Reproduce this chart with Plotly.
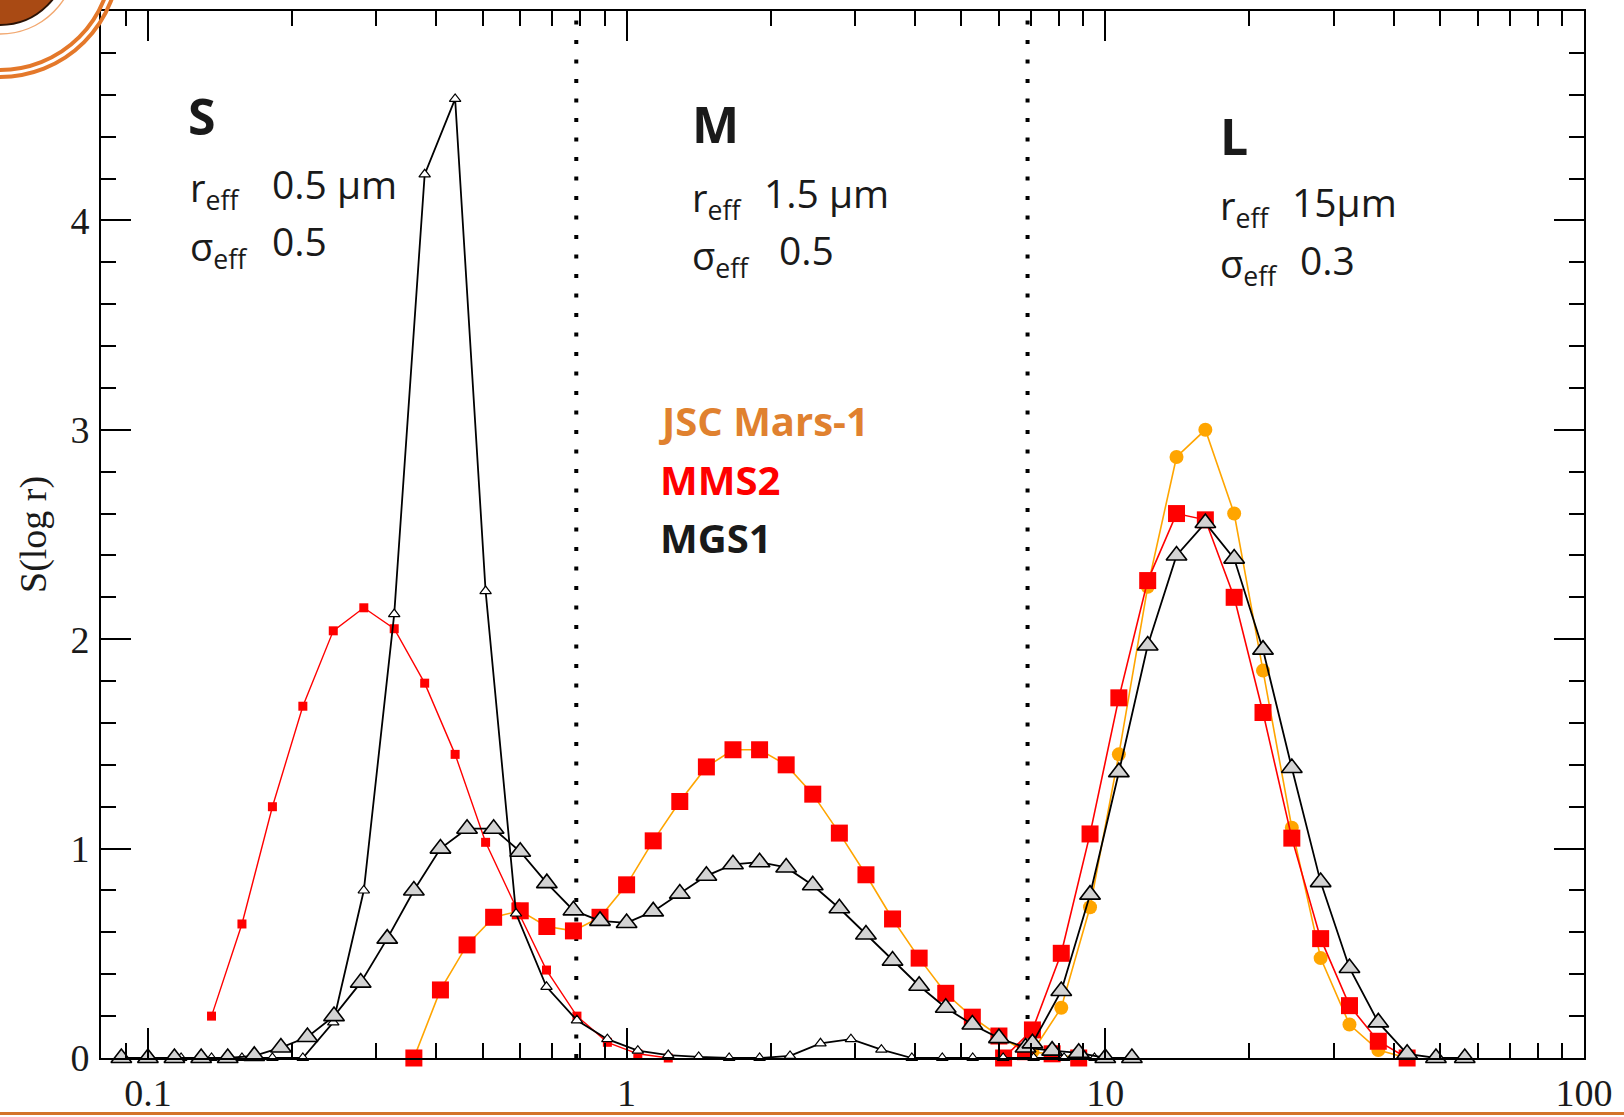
import plotly.graph_objects as go

# ---- particle radius grids (µm) ----
r_fine = [0.1014, 0.1173, 0.1358, 0.1572, 0.1820, 0.2107, 0.2439, 0.2825, 0.3270, 0.3786,
          0.4383, 0.5075, 0.5875, 0.6802, 0.7875, 0.9116, 1.0554, 1.2218, 1.4145, 1.6376,
          1.8959, 2.1948, 2.5410, 2.9418, 3.4058, 3.9430, 4.5647, 5.2845, 6.1180, 7.0829,
          8.2000, 9.4931]
r_mid = [0.0880, 0.1000, 0.1136, 0.1292, 0.1468, 0.1668, 0.1896, 0.2154, 0.2448, 0.2783,
         0.3162, 0.3594, 0.4084, 0.4642, 0.5275, 0.5995, 0.6813, 0.7743, 0.8799, 1.0000,
         1.1365, 1.2915, 1.4678, 1.6681, 1.8957, 2.1544, 2.4484, 2.7826, 3.1623, 3.5938,
         4.0842, 4.6416, 5.2750, 5.9948, 6.8129, 7.7426, 8.7992, 10.000, 11.365]
r_coarse = [6.131, 7.043, 8.091, 9.292, 10.674, 12.262, 14.086, 16.181, 18.587, 21.351,
            24.527, 28.175, 32.365, 37.178, 42.708, 49.06, 56.35]

# ---- S(log r) values ----
# MGS1, narrow S mode (on r_fine)
mgs1_s_narrow = [0, 0, 0, 0, 0, 0, 0.17, 0.80, 2.12, 4.22, 4.58, 2.23, 0.69, 0.34, 0.18,
                 0.09, 0.035, 0.014, 0.005, 0, 0, 0.01, 0.07, 0.09, 0.04, 0, 0, 0, 0, 0, 0, 0]
# MMS2, S mode (on r_fine, from 0.1358 µm)
mms2_s = [0.20, 0.64, 1.20, 1.68, 2.04, 2.15, 2.05, 1.79, 1.45, 1.03, 0.72, 0.42, 0.20,
          0.075, 0.02, 0.0]
# MGS1, S + M modes (on r_mid)
mgs1_sm = [0, 0, 0, 0, 0, 0.01, 0.05, 0.10, 0.20, 0.36, 0.57, 0.80, 1.00, 1.095, 1.095,
           0.985, 0.835, 0.705, 0.655, 0.645, 0.70, 0.785, 0.87, 0.925, 0.935, 0.91, 0.825,
           0.715, 0.59, 0.465, 0.345, 0.24, 0.16, 0.095, 0.05, 0.035, 0.025, 0.0, 0.0]
# MMS2 / JSC Mars-1, M mode (on r_mid, from 0.3594 µm)
mms2_m = [0.0, 0.325, 0.54, 0.672, 0.703, 0.628, 0.607, 0.672, 0.827, 1.037, 1.225, 1.39,
          1.472, 1.472, 1.40, 1.26, 1.074, 0.875, 0.664, 0.477, 0.309, 0.195, 0.105, 0.03,
          0.02, 0.0]
# L mode (on r_coarse)
jsc_l = [0.03, 0.24, 0.72, 1.45, 2.25, 2.87, 3.0, 2.60, 1.85, 1.10, 0.477, 0.16, 0.038, 0.0]
mms2_l = [0.0, 0.134, 0.50, 1.07, 1.72, 2.28, 2.60, 2.57, 2.20, 1.65, 1.05, 0.57, 0.25, 0.08, 0.0]
mgs1_l = [0.07, 0.32, 0.78, 1.365, 1.97, 2.40, 2.555, 2.385, 1.95, 1.385, 0.84, 0.43, 0.17,
          0.02, 0.0, 0.0]

# mode boundaries (µm)
mode_bounds = [0.785, 6.88]

x_ticks = [0.1, 1, 10, 100]
x_tick_text = ["0.1", "1", "10", "100"]
y_ticks = [0, 1, 2, 3, 4]

# ---- page geometry (px) ----
W, H = 1624, 1117
L_M, R_M, T_M, B_M = 101, 40, 11, 59
PW, PH = W - L_M - R_M, H - T_M - B_M


def px(xp):
    return (xp - L_M) / PW


def py(yp):
    return (H - B_M - yp) / PH


RED = "#FF0000"
ORANGE = "#FFA500"
GRAY = "#D3D3D3"
INK = "#1A1A1A"
SANS = "'Open Sans', Lato, sans-serif"
SERIF = "'Liberation Serif', 'Times New Roman', serif"

fig = go.Figure()

for b in mode_bounds:
    fig.add_trace(go.Scatter(x=[b, b], y=[0, 5], mode="lines",
                             line=dict(color="black", width=4, dash="4px,15.5px"),
                             hoverinfo="skip"))

fig.add_trace(go.Scatter(  # JSC Mars-1, L mode
    x=r_coarse[1:1 + len(jsc_l)], y=jsc_l, mode="lines+markers",
    line=dict(color=ORANGE, width=1.6),
    marker=dict(symbol="circle", size=14, color=ORANGE), cliponaxis=False))

fig.add_trace(go.Scatter(  # M mode
    x=r_mid[11:11 + len(mms2_m)], y=mms2_m, mode="lines+markers",
    line=dict(color=ORANGE, width=1.6),
    marker=dict(symbol="square", size=17, color=RED), cliponaxis=False))

fig.add_trace(go.Scatter(  # MMS2, L mode
    x=r_coarse[:len(mms2_l)], y=mms2_l, mode="lines+markers",
    line=dict(color=RED, width=1.6),
    marker=dict(symbol="square", size=17, color=RED), cliponaxis=False))

fig.add_trace(go.Scatter(  # MMS2, S mode
    x=r_fine[2:2 + len(mms2_s)], y=mms2_s, mode="lines+markers",
    line=dict(color=RED, width=1.4),
    marker=dict(symbol="square", size=9, color=RED), cliponaxis=False))

fig.add_trace(go.Scatter(  # MGS1, narrow S mode
    x=r_fine, y=mgs1_s_narrow, mode="lines+markers",
    line=dict(color="black", width=1.8),
    marker=dict(symbol="triangle-up", size=10, color="white",
                line=dict(color="black", width=1.2)), cliponaxis=False))

fig.add_trace(go.Scatter(  # MGS1, S + M modes
    x=r_mid, y=mgs1_sm, mode="lines+markers",
    line=dict(color="black", width=1.8),
    marker=dict(symbol="triangle-up", size=18, color=GRAY,
                line=dict(color="black", width=1.6)), cliponaxis=False))

fig.add_trace(go.Scatter(  # MGS1, L mode
    x=r_coarse[1:1 + len(mgs1_l)], y=mgs1_l, mode="lines+markers",
    line=dict(color="black", width=1.8),
    marker=dict(symbol="triangle-up", size=18, color=GRAY,
                line=dict(color="black", width=1.6)), cliponaxis=False))

minor_x = [m * 10 ** e for e in (-2, -1, 0, 1) for m in range(2, 10)]

axis_common = dict(showline=True, linecolor="black", linewidth=2, mirror="allticks",
                   ticks="inside", tickcolor="black", tickwidth=1.8, ticklen=30,
                   showgrid=False, zeroline=False, automargin=False,
                   tickfont=dict(family=SERIF, size=38, color=INK))

fig.update_xaxes(type="log", range=[-1.098, 2.0], tickmode="array",
                 tickvals=x_ticks, ticktext=x_tick_text, ticklabelstandoff=0,
                 minor=dict(ticks="inside", ticklen=15, tickwidth=1.5, tickcolor="black",
                            tickmode="array", tickvals=minor_x, showgrid=False),
                 **axis_common)
fig.update_yaxes(range=[0, 5], tickmode="array", tickvals=y_ticks, ticklabelstandoff=2,
                 minor=dict(ticks="inside", ticklen=15, tickwidth=1.5, tickcolor="black",
                            dtick=0.2, tick0=0, showgrid=False),
                 **axis_common)

ann = []


def label(text, x, y, size, color=INK, bold=False):
    t = f"<b>{text}</b>" if bold else text
    ann.append(dict(text=t, x=px(x), y=py(y), xref="paper", yref="paper",
                    xanchor="left", yanchor="middle", showarrow=False,
                    font=dict(family=SANS, size=size, color=color)))


# mode headers and parameters
label("S", 186, 116, 50, bold=True)
label("r<sub>eff</sub>", 188, 190, 38)
label("0.5 µm", 270, 184, 39)
label("σ<sub>eff</sub>", 188, 248, 38)
label("0.5", 270, 241, 39)

label("M", 690, 124, 50, bold=True)
label("r<sub>eff</sub>", 690, 199, 38)
label("1.5 µm", 762, 192, 39)
label("σ<sub>eff</sub>", 690, 257, 38)
label("0.5", 777, 250, 39)

label("L", 1218, 136, 50, bold=True)
label("r<sub>eff</sub>", 1218, 207, 38)
label("15µm", 1290, 201, 39)
label("σ<sub>eff</sub>", 1218, 265, 38)
label("0.3", 1298, 259, 39)

# sample names
label("JSC Mars-1", 657, 421, 40, color="#E0812F", bold=True)
label("MMS2", 658, 479, 40, color="#FF0000", bold=True)
label("MGS1", 658, 537, 40, color=INK, bold=True)

ann.append(dict(text="S(log r)", x=px(33), y=py(535), xref="paper", yref="paper",
                xanchor="center", yanchor="middle", textangle=-90, showarrow=False,
                font=dict(family=SERIF, size=38, color=INK)))

# slide decoration: rings in the top-left corner and a rule at the bottom
cx, cy = px(0), py(-42)


def ring(r, **kw):
    return dict(type="circle", xref="paper", yref="paper", xsizemode="pixel",
                ysizemode="pixel", xanchor=cx, yanchor=cy, x0=-r, x1=r, y0=-r, y1=r,
                layer="above", **kw)


shapes = [
    ring(119, line=dict(color="#E4782A", width=4)),
    ring(112, line=dict(color="#E4782A", width=4)),
    ring(76, line=dict(color="#F2A870", width=1.5)),
    ring(67, fillcolor="#A94A14", line=dict(color="#2A1205", width=2)),
    dict(type="line", xref="paper", yref="paper", x0=px(0), x1=px(W), y0=py(1113.5),
         y1=py(1113.5), line=dict(color="#D4732A", width=3), layer="above"),
]

fig.update_layout(width=W, height=H, autosize=False,
                  margin=dict(l=L_M, r=R_M, t=T_M, b=B_M, pad=0),
                  plot_bgcolor="white", paper_bgcolor="white", showlegend=False,
                  annotations=ann, shapes=shapes)

fig.write_html("out.html")
